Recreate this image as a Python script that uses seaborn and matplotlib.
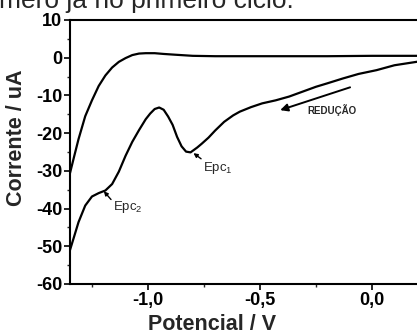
import pandas as pd
import seaborn as sns
import matplotlib.pyplot as plt

# varredura de ida (reducao), de 0,22 V ate -1,35 V
potencial_ida = [0.22, 0.10, 0.02, -0.06, -0.13, -0.20, -0.25, -0.31, -0.37, -0.43, -0.49,
                 -0.54, -0.59, -0.62, -0.66, -0.70, -0.73, -0.76, -0.78, -0.81, -0.83,
                 -0.85, -0.87, -0.89, -0.91, -0.93, -0.95, -0.97, -0.99, -1.01, -1.04,
                 -1.07, -1.10, -1.13, -1.16, -1.19, -1.22, -1.25, -1.28, -1.31, -1.33, -1.348]
corrente_ida = [-0.9, -2.0, -3.3, -4.3, -5.5, -6.8, -7.7, -9.0, -10.3, -11.3, -12.1,
                -13.1, -14.3, -15.3, -17.0, -19.3, -21.2, -22.8, -23.8, -25.1, -24.9,
                -23.5, -21.0, -17.8, -15.6, -13.8, -13.2, -13.6, -14.8, -16.3, -19.2,
                -22.3, -26.0, -30.2, -33.5, -35.2, -35.9, -36.8, -39.2, -43.6, -47.5, -51.0]

# varredura de volta, de -1,35 V ate 0,22 V
potencial_volta = [-1.348, -1.33, -1.31, -1.28, -1.25, -1.22, -1.19, -1.16, -1.13, -1.10,
                   -1.07, -1.04, -1.01, -0.97, -0.93, -0.88, -0.80, -0.70, -0.55, -0.40,
                   -0.20, 0.0, 0.22]
corrente_volta = [-30.6, -26.3, -21.6, -15.5, -11.3, -7.5, -4.7, -2.6, -1.1, -0.1,
                  0.7, 1.1, 1.2, 1.2, 1.0, 0.8, 0.5, 0.4, 0.4, 0.4,
                  0.4, 0.5, 0.5]

sns.set_style('ticks')
plt.rcParams['font.family'] = ['Liberation Sans', 'DejaVu Sans']
plt.rcParams['mathtext.fontset'] = 'custom'
plt.rcParams['mathtext.rm'] = 'Liberation Sans'
plt.rcParams['mathtext.it'] = 'Liberation Sans:italic'
plt.rcParams['axes.linewidth'] = 1.5
plt.rcParams['axes.edgecolor'] = 'black'
plt.rcParams['axes.unicode_minus'] = False

df = pd.concat([
    pd.DataFrame({'Potencial': potencial_ida, 'Corrente': corrente_ida, 'scan': 'ida'}),
    pd.DataFrame({'Potencial': potencial_volta, 'Corrente': corrente_volta, 'scan': 'volta'}),
])

fig = plt.figure(figsize=(4.17, 3.31), dpi=100)
ax = fig.add_axes([70 / 417, 47 / 331, 352 / 417, 264 / 331])
sns.lineplot(data=df, x='Potencial', y='Corrente', units='scan', estimator=None,
             sort=False, color='black', lw=1.6, ax=ax)

ax.set_xlim(-1.348, 0.223)
ax.set_ylim(-60, 10)
ax.set_xticks([-1.0, -0.5, 0.0])
ax.set_xticks([-1.25, -0.75, -0.25], minor=True)
ax.set_xticklabels(['-1,0', '-0,5', '0,0'])
ax.set_yticks(range(-60, 11, 10))
ax.set_yticks(range(-55, 10, 10), minor=True)
ax.tick_params(which='major', length=4, width=1.2, pad=1.5, labelsize=13, colors='black')
ax.tick_params(which='minor', length=2.5, width=1.0)
for lab in ax.get_xticklabels() + ax.get_yticklabels():
    lab.set_fontweight('bold')

ax.set_xlabel('Potencial / V', fontsize=15.5, fontweight='bold')
ax.set_ylabel('Corrente / uA', fontsize=15.5, fontweight='bold')
ax.xaxis.set_label_coords(0.403, -0.112)
ax.yaxis.set_label_coords(-0.122, 0.553)

# picos catodicos
seta_pico = dict(arrowstyle='-|>', color='black', lw=1.0, mutation_scale=6, shrinkA=0, shrinkB=0)
ax.annotate('', xy=(-0.797, -25.3), xytext=(-0.763, -26.8), arrowprops=seta_pico)
ax.text(-0.754, -29.3, 'Epc$_1$', fontsize=9.5, va='center')
ax.annotate('', xy=(-1.197, -35.4), xytext=(-1.165, -37.6), arrowprops=seta_pico)
ax.text(-1.156, -39.6, 'Epc$_2$', fontsize=9.5, va='center')

# sentido da varredura
ax.annotate('', xy=(-0.41, -13.9), xytext=(-0.098, -7.85),
            arrowprops=dict(arrowstyle='-|>', color='black', lw=1.4, mutation_scale=11,
                            shrinkA=0, shrinkB=0))
ax.text(-0.29, -13.9, 'REDUÇÃO', fontsize=7, fontweight='bold', va='center')

fig.text(-0.003, 0.975, 'mero já no primeiro ciclo.', fontsize=19, va='baseline')

fig.savefig('out.png', dpi=100)
